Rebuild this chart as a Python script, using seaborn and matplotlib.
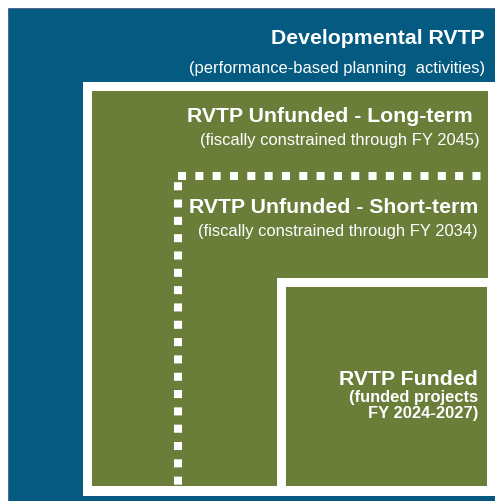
import matplotlib
matplotlib.use("Agg")
import matplotlib.pyplot as plt
from matplotlib.patches import Rectangle
import seaborn as sns

# ---- content -------------------------------------------------------------
levels = ["Developmental RVTP", "RVTP Unfunded - Long-term",
          "RVTP Unfunded - Short-term", "RVTP Funded"]
subtitles = ["(performance-based planning  activities)",
             "(fiscally constrained through FY 2045)",
             "(fiscally constrained through FY 2034)",
             "(funded projects\nFY 2024-2027)"]

# ---- style ---------------------------------------------------------------
sns.set_theme(style="white")
plt.rcParams["font.family"] = ["Liberation Sans", "DejaVu Sans"]

BLUE = "#045a80"
GREEN = "#6a7e3a"
WHITE = "#ffffff"

W, H = 495, 502
fig = plt.figure(figsize=(W / 100, H / 100), dpi=100)
ax = fig.add_axes([0, 0, 1, 1])
ax.set_xlim(0, W)
ax.set_ylim(H, 0)
ax.set_axis_off()

# outer developmental box
ax.add_patch(Rectangle((8, 9), 520, 520, facecolor=BLUE, edgecolor="#4a5a8a", lw=0.6))
# long-term box (white frame + green fill)
frame = Rectangle((83, 83), 440, 414, facecolor=WHITE, edgecolor="none")
ax.add_patch(frame)
ax.add_patch(Rectangle((92, 92), 396, 395, facecolor=GREEN, edgecolor="none"))
# short-term dotted frame
dots = Rectangle((177.5, 176.5), 400, 400, facecolor="none", edgecolor=WHITE,
                 lw=5.8, linestyle=(0, (1.0, 1.15)), capstyle="butt")
ax.add_patch(dots)
dots.set_clip_path(frame)
# funded box
ax.add_patch(Rectangle((277, 279), 250, 218, facecolor=WHITE, edgecolor="none"))
ax.add_patch(Rectangle((286, 288), 201, 199, facecolor=GREEN, edgecolor="none"))

# ---- text ----------------------------------------------------------------
tkw = dict(color="white", ha="right", va="baseline")
TS, SS = 15.3, 11.9
ax.text(485, 44, levels[0], fontsize=TS, fontweight="bold", **tkw)
ax.text(485, 73, subtitles[0], fontsize=SS, **tkw)

ax.text(473, 122, levels[1], fontsize=TS, fontweight="bold", **tkw)
ax.text(480, 145, subtitles[1], fontsize=SS, **tkw)

ax.text(478, 213, levels[2], fontsize=TS, fontweight="bold", **tkw)
ax.text(477, 236, subtitles[2], fontsize=SS, **tkw)

ax.text(478, 385, levels[3], fontsize=TS, fontweight="bold", **tkw)
ax.text(478, 402, subtitles[3].split("\n")[0], fontsize=SS, fontweight="bold", **tkw)
ax.text(478, 418, subtitles[3].split("\n")[1], fontsize=SS, fontweight="bold", **tkw)

fig.savefig("out.png", dpi=100)
